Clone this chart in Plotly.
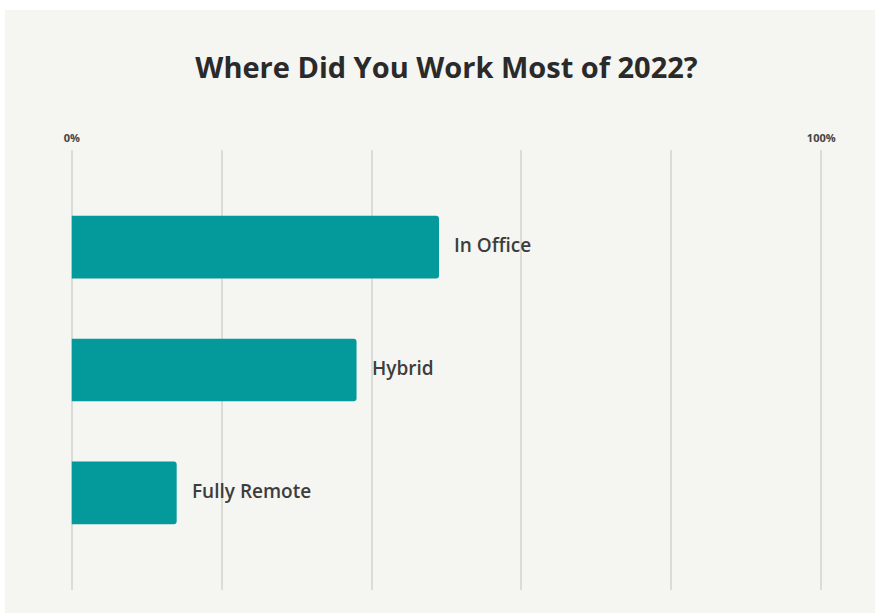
import plotly.graph_objects as go

# Survey data
categories = ["In Office", "Hybrid", "Fully Remote"]
shares = [49, 38, 14]
tick_values = [0, 20, 40, 60, 80, 100]
tick_labels = ["0%", "", "", "", "", "100%"]

W, H = 875, 613
pad = 0.5                      # small axis padding so the 0% and 100% gridlines show
unit = 749 / 100               # pixels per percentage point
ml = round(72 - pad * unit)
mr = round(54 - pad * unit)
mt, mb = 150, 23
pw, ph = W - ml - mr, H - mt - mb

bar_color = "#049a9c"
panel_color = "#f5f5f1"
grid_color = "#dcdcd7"
text_color = "#3d3d3d"

fig = go.Figure(
    go.Bar(
        x=shares,
        y=categories,
        orientation="h",
        marker=dict(color=bar_color, line=dict(width=0), cornerradius=3),
        width=0.51,
        hoverinfo="skip",
    )
)

# Category labels to the right of each bar
for cat, val in zip(categories, shares):
    fig.add_annotation(
        x=val, y=cat, xref="x", yref="y",
        text=cat, showarrow=False,
        xanchor="left", yanchor="middle", xshift=13, yshift=2,
        font=dict(family="Open Sans", size=19, color=text_color, weight=600),
    )

# Light card behind the chart
fig.add_shape(
    type="rect", xref="paper", yref="paper", layer="below",
    x0=(5 - ml) / pw, x1=(W - ml) / pw,
    y0=(H - mb - H) / ph, y1=(H - mb - 10) / ph,
    fillcolor=panel_color, line=dict(width=0),
)

fig.update_layout(
    width=W, height=H,
    margin=dict(l=ml, r=mr, t=mt, b=mb),
    paper_bgcolor="white",
    plot_bgcolor="rgba(0,0,0,0)",
    showlegend=False,
    title=dict(
        text="Where Did You Work Most of 2022?",
        x=0.5, xref="paper", xanchor="center",
        y=1 - 68 / H, yanchor="middle",
        font=dict(family="Open Sans", size=29, color="#2a2a2a", weight=700),
    ),
    xaxis=dict(
        range=[-pad, 100 + pad], side="top",
        tickvals=tick_values, ticktext=tick_labels,
        showgrid=True, gridcolor=grid_color, gridwidth=2,
        zeroline=False, showline=False, ticks="",
        ticklabelstandoff=5,
        tickfont=dict(family="Open Sans", size=11, color="#444444", weight=700),
        fixedrange=True,
    ),
    yaxis=dict(
        categoryorder="array", categoryarray=categories,
        range=[2.79, -0.79],
        showticklabels=False, showgrid=False, zeroline=False, showline=False,
        fixedrange=True,
    ),
)

fig.write_html("out.html")
